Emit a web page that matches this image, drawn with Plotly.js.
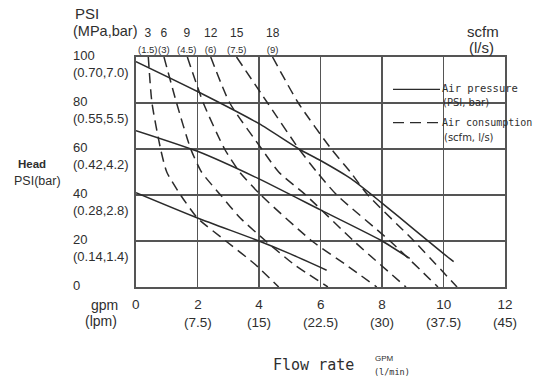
<!DOCTYPE html>
<html><head><meta charset="utf-8">
<script src="https://cdn.plot.ly/plotly-3.0.1.min.js"></script>
<style>html,body{margin:0;padding:0;background:#fff}#chart{width:537px;height:383px}</style>
</head><body><div id="chart"></div>
<script>
// Air pressure curves (solid): flow in gpm, head in PSI
const p100Flow = [0, 2, 4, 5.3, 6, 7, 8, 9, 10, 10.33];
const p100Head = [98, 85, 71, 60, 55, 47, 36.5, 25.5, 14.5, 11];
const p70Flow = [0, 2, 4, 6, 8, 8.9];
const p70Head = [68, 59, 47, 33.5, 20, 12.4];
const p40Flow = [0, 2, 4, 5, 6.2];
const p40Head = [41, 30, 20, 14.5, 7.3];

// Air consumption curves (dashed): scfm (l/s)
const c3Flow = [0.40, 0.52, 0.80, 1.0, 1.45, 2.0, 2.92, 3.86, 4.64];
const c3Head = [100, 80, 60, 50, 40, 30, 20, 10, 0];
const c6Flow = [0.91, 1.32, 1.78, 2.13, 2.75, 3.39, 4.22, 5.12, 6.24];
const c6Head = [100, 80, 60, 50, 40, 30, 20, 10, 0];
const c9Flow = [1.67, 2.19, 2.88, 3.37, 4.06, 5.72, 6.79, 7.83];
const c9Head = [100, 80, 60, 50, 40, 20, 10, 0];
const c12Flow = [2.43, 3.05, 4.09, 4.64, 5.52, 7.08, 8.78];
const c12Head = [100, 80, 60, 50, 40, 20, 0];
const c15Flow = [3.27, 4.28, 5.30, 5.88, 6.53, 8.26, 9.82];
const c15Head = [100, 80, 60, 50, 40, 20, 0];
const c18Flow = [4.44, 5.28, 6.35, 6.97, 7.54, 9.04, 10.44];
const c18Head = [100, 80, 60, 50, 40, 20, 0];
const consumptionScfm = ['3', '6', '9', '12', '15', '18'];
const consumptionLps = ['(1.5)', '(3)', '(4.5)', '(6)', '(7.5)', '(9)'];

const xTickVals = [0, 2, 4, 6, 8, 10, 12];
const xTickText = ['0', '2<br>(7.5)', '4<br>(15)', '6<br>(22.5)', '8<br>(30)', '10<br>(37.5)', '12<br>(45)'];
const yTickVals = [100, 80, 60, 40, 20, 0];
const yTickText = ['100<br>(0.70,7.0)', '80<br>(0.55,5.5)', '60<br>(0.42,4.2)', '40<br>(0.28,2.8)', '20<br>(0.14,1.4)', '0'];

const INK = '#2b2b2b';
const GRID = '#555555';
const TXT = '#2e2e2e';
const FONT = 'Liberation Sans, Arial, sans-serif';
const MONO = 'DejaVu Sans Mono, Liberation Mono, monospace';
const DEJA = 'DejaVu Sans, sans-serif';

const traces = [];
[[p100Flow, p100Head], [p70Flow, p70Head], [p40Flow, p40Head]].forEach(function (c) {
  traces.push({x: c[0], y: c[1], type: 'scatter', mode: 'lines', showlegend: false, hoverinfo: 'skip',
    line: {color: INK, width: 1.5, shape: 'spline', smoothing: 0.6}});
});
const cons = [[c3Flow, c3Head], [c6Flow, c6Head], [c9Flow, c9Head], [c12Flow, c12Head], [c15Flow, c15Head], [c18Flow, c18Head]];
cons.forEach(function (c) {
  traces.push({x: c[0], y: c[1], type: 'scatter', mode: 'lines', showlegend: false, hoverinfo: 'skip',
    line: {color: INK, width: 1.5, dash: '10px,6px', shape: 'spline', smoothing: 0.6}});
});

const ann = [];
// consumption labels at top of each dashed curve
cons.forEach(function (c, i) {
  ann.push({xref: 'x', yref: 'paper', x: c[0][0], y: 1, yanchor: 'bottom', xanchor: 'center', yshift: 0,
    text: consumptionScfm[i] + '<br><span style="font-size:9.5px">' + consumptionLps[i] + '</span>',
    showarrow: false, align: 'center', font: {family: FONT, size: 12, color: TXT}});
});
// y tick labels (left aligned)
yTickVals.forEach(function (v, i) {
  ann.push({xref: 'paper', yref: 'y', x: -0.176, y: v, xanchor: 'left', yanchor: 'top', yshift: 11,
    text: yTickText[i], showarrow: false, align: 'left', font: {family: FONT, size: 13, color: TXT}});
});
// x tick labels
xTickVals.forEach(function (v, i) {
  ann.push({xref: 'x', yref: 'paper', x: v, y: 0, xanchor: 'center', yanchor: 'top', yshift: -8,
    text: xTickText[i], showarrow: false, align: 'center', font: {family: FONT, size: 13.5, color: TXT}});
});
function pa(text, px, py, size, opts) {
  const o = Object.assign({xref: 'paper', yref: 'paper', x: (px - 136) / 369, y: (287 - py) / 230,
    xanchor: 'center', yanchor: 'middle', text: text, showarrow: false,
    font: {family: FONT, size: size, color: TXT}}, opts || {});
  ann.push(o);
}
pa('PSI', 85, 14, 15, {xanchor: 'left', x: (73 - 136) / 369});
pa('(MPa,bar)', 105, 31, 14.5, {xanchor: 'left', x: (71 - 136) / 369});
pa('scfm', 483, 32, 15);
pa('(l/s)', 481, 47, 15);
pa('<b>Head</b>', 32, 164, 11.5);
pa('PSI(bar)', 37, 181, 12.5);
pa('gpm', 104, 305, 14);
pa('(lpm)', 101, 321, 14);
pa('Flow rate', 313, 365, 15, {font: {family: MONO, size: 15, color: TXT}});
pa('GPM', 384, 358, 8, {font: {family: FONT, size: 8, color: TXT}});
pa('(l/min)', 392, 372, 8.5, {font: {family: MONO, size: 8.5, color: TXT}});
// legend texts
pa('Air pressure', 440, 88, 10.5, {xanchor: 'left', font: {family: MONO, size: 10.5, color: TXT}});
pa('(PSI, bar)', 441, 102.5, 10, {xanchor: 'left', font: {family: DEJA, size: 10, color: TXT}});
pa('Air consumption', 440, 122, 10, {xanchor: 'left', font: {family: MONO, size: 10, color: TXT}});
pa('(scfm, l/s)', 442, 137.5, 10, {xanchor: 'left', font: {family: DEJA, size: 10, color: TXT}});

function px2x(px) { return (px - 136) / 369; }
function py2y(py) { return (287 - py) / 230; }
const shapes = [
  {type: 'rect', xref: 'paper', yref: 'paper', x0: px2x(385), x1: px2x(496), y0: py2y(140), y1: py2y(70),
    fillcolor: '#ffffff', line: {width: 0}, layer: 'between'},
  {type: 'line', xref: 'paper', yref: 'paper', x0: px2x(393), x1: px2x(440), y0: py2y(89.3), y1: py2y(89.3),
    line: {color: INK, width: 1.2}},
  {type: 'line', xref: 'paper', yref: 'paper', x0: px2x(393), x1: px2x(440), y0: py2y(122.7), y1: py2y(122.7),
    line: {color: INK, width: 1.2, dash: '11px,6px'}}
];

const layout = {
  width: 537, height: 383,
  margin: {l: 136, r: 32, t: 57, b: 96, pad: 0},
  paper_bgcolor: '#ffffff', plot_bgcolor: '#ffffff',
  showlegend: false,
  xaxis: {range: [0, 12], tickvals: xTickVals, showticklabels: false, ticks: '',
    showgrid: true, gridcolor: GRID, gridwidth: 1.6, zeroline: false,
    showline: true, mirror: true, linecolor: GRID, linewidth: 1.6, fixedrange: true},
  yaxis: {range: [0, 100], tickvals: yTickVals, showticklabels: false, ticks: '',
    showgrid: true, gridcolor: GRID, gridwidth: 1.6, zeroline: false,
    showline: true, mirror: true, linecolor: GRID, linewidth: 1.6, fixedrange: true},
  annotations: ann,
  shapes: shapes,
  font: {family: FONT, color: TXT}
};
Plotly.newPlot('chart', traces, layout, {displayModeBar: false, staticPlot: true});
</script>
</body></html>
